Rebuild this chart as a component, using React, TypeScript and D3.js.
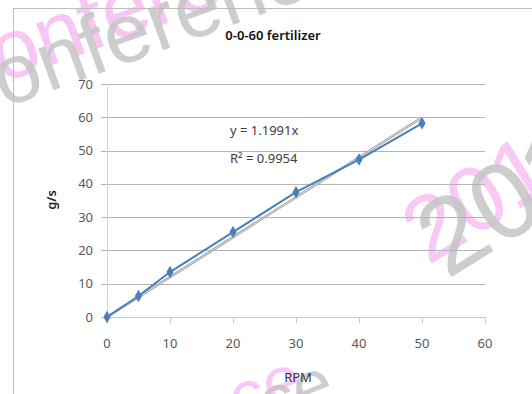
import * as d3 from 'd3'

// RPM vs flow (g/s)
const rpm = [0, 5, 10, 20, 30, 40, 50]
const flow = [0, 6.3, 13.5, 25.5, 37.5, 47.3, 58.2]
const slope = 1.1991
const xTicks = [0, 10, 20, 30, 40, 50, 60]
const yTicks = [0, 10, 20, 30, 40, 50, 60, 70]

export default function App() {
  const width = 532
  const height = 394
  const x = d3.scaleLinear().domain([0, 60]).range([107, 485])
  const y = d3.scaleLinear().domain([0, 70]).range([317, 84])

  const pts = rpm.map((r, i) => [r, flow[i]] as [number, number])
  const line = d3.line<[number, number]>().x(d => x(d[0])).y(d => y(d[1]))
  const diamond = d3.symbol().type(d3.symbolDiamond).size(45)()

  const font = "'Noto Sans', 'DejaVu Sans', sans-serif"
  const tickColor = '#595959'

  return (
    <svg width={width} height={height} style={{ position: 'absolute', left: 0, top: 0, background: '#fff' }}>
      {/* watermarks */}
      <g fontFamily="'Liberation Sans', Arial, sans-serif" fontSize={84}>
        <text x={-55} y={104} transform="rotate(-20,-55,104)" fill="#f7c6f3">Conference</text>
        <text x={-53} y={129} transform="rotate(-20,-53,129)" fill="#c4c4c4" fillOpacity={0.85}>Conference</text>
        <text x={428} y={266} transform="rotate(-32,428,266)" fill="#f9c9f5" fontSize={92}>2018</text>
        <text x={447} y={280} transform="rotate(-32,447,280)" fill="#c4c4c4" fillOpacity={0.85} fontSize={108}>2018</text>
        <text x={240} y={424} transform="rotate(-22,240,424)" fill="#f9c9f5" fontSize={70}>ce</text>
        <text x={270} y={428} transform="rotate(-22,270,428)" fill="#c4c4c4" fillOpacity={0.85} fontSize={70}>ce</text>
      </g>

      {/* chart frame */}
      <rect x={13.5} y={8.5} width={560} height={420} fill="none" stroke="#bdbdbd" />

      <text x={273} y={40} textAnchor="middle" fontFamily={font} fontSize={13} fontWeight={600} fill="#111">
        0-0-60 fertilizer
      </text>

      {/* grid */}
      {yTicks.map(t => (
        <line key={'g' + t} x1={101} x2={x(60)} y1={Math.round(y(t)) + 0.5} y2={Math.round(y(t)) + 0.5}
          stroke={t === 0 ? '#c8c8c8' : '#b4b4b4'} />
      ))}
      <line x1={107.5} x2={107.5} y1={y(70)} y2={y(0)} stroke="#d4d4d4" />
      {xTicks.map(t => (
        <line key={'xt' + t} x1={Math.round(x(t)) + 0.5} x2={Math.round(x(t)) + 0.5} y1={y(0)} y2={y(0) + 6} stroke="#c8c8c8" />
      ))}

      {/* tick labels */}
      {yTicks.map(t => (
        <text key={'yl' + t} x={93} y={y(t)} dy="0.35em" textAnchor="end" fontFamily={font} fontSize={13} fill={tickColor}>
          {t}
        </text>
      ))}
      {xTicks.map(t => (
        <text key={'xl' + t} x={x(t)} y={348} textAnchor="middle" fontFamily={font} fontSize={13} fill={tickColor}>
          {t}
        </text>
      ))}

      {/* trend line */}
      <line x1={x(0)} y1={y(0)} x2={x(50)} y2={y(50 * slope)} stroke="#9a9a9a" strokeWidth={2.5} />
      <line x1={x(0)} y1={y(0)} x2={x(50)} y2={y(50 * slope)} stroke="#f4f4f4" strokeWidth={0.8} />

      {/* series */}
      <path d={line(pts) ?? ''} fill="none" stroke="#4a7ebb" strokeWidth={2} />
      {pts.map((p, i) => (
        <path key={'m' + i} d={diamond ?? ''} transform={`translate(${x(p[0])},${y(p[1])})`} fill="#4a7ebb" />
      ))}

      {/* trend label */}
      <text x={230} y={135} fontFamily={font} fontSize={13} fill="#404040">y = 1.1991x</text>
      <text x={230} y={163} fontFamily={font} fontSize={13} fill="#404040">R² = 0.9954</text>

      {/* axis titles */}
      <text transform="translate(56,200) rotate(-90)" textAnchor="middle" fontFamily={font} fontSize={13} fontWeight={600} fill="#222">
        g/s
      </text>
      <text x={298} y={382} textAnchor="middle" fontFamily={font} fontSize={13} fill="#333">RPM</text>
    </svg>
  )
}
